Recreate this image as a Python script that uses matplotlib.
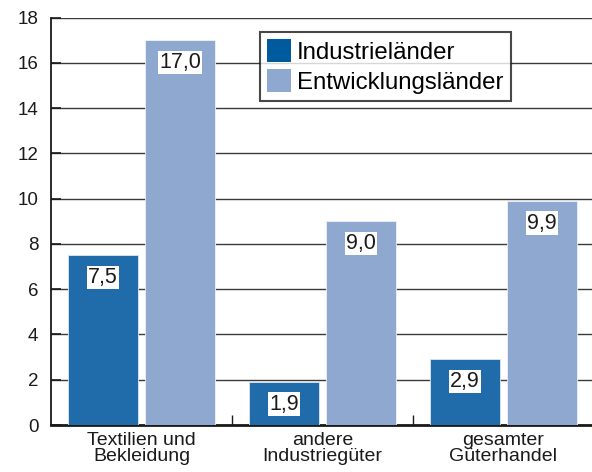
import matplotlib
matplotlib.use("Agg")
import matplotlib.pyplot as plt
import numpy as np
from matplotlib.patches import Patch

categories = ["Textilien und\nBekleidung", "andere\nIndustriegüter", "gesamter\nGüterhandel"]
industrie = [7.5, 1.9, 2.9]
entwicklung = [17.0, 9.0, 9.9]
series_names = ["Industrieländer", "Entwicklungsländer"]
yticks = [0, 2, 4, 6, 8, 10, 12, 14, 16, 18]

plt.rcParams['font.family'] = ['Liberation Sans', 'DejaVu Sans']

dark_bar = "#206baa"
dark_leg = "#005b9e"
light = "#8ea8cf"

fig = plt.figure(figsize=(5.92, 4.72), dpi=100)
ax = fig.add_axes([51/592, 47/472, 541/592, 407.5/472])

x = np.arange(len(categories))
w = 0.387
off = 0.212
b1 = ax.bar(x - off, industrie, w, color=dark_bar, edgecolor="#dfe8f2", linewidth=0.6, zorder=3)
b2 = ax.bar(x + off, entwicklung, w, color=light, edgecolor="#eef2f8", linewidth=0.6, zorder=3)

for bars, vals in ((b1, industrie), (b2, entwicklung)):
    for r, v in zip(bars, vals):
        ax.annotate(f"{v:.1f}".replace(".", ","), (r.get_x() + r.get_width()/2, v),
                    xytext=(0, -16), textcoords="offset points", ha="center", va="center",
                    fontsize=15.5, color="#1a1a1a", zorder=5,
                    bbox=dict(boxstyle="square,pad=0.06", fc="white", ec="none"))

ax.set_ylim(0, 18)
ax.set_xlim(-0.5, 2.49)
ax.set_yticks(yticks)
ax.set_yticklabels([str(t) for t in yticks])
ax.yaxis.grid(True, color="#3a3a3a", linewidth=1.0, zorder=0)
ax.set_axisbelow(True)
ax.tick_params(axis="y", direction="in", length=7.5, width=1.2, pad=9, labelsize=13.5, colors="#1a1a1a")
ax.set_xticks(x)
ax.set_xticklabels(categories, fontsize=14, color="#1a1a1a", linespacing=0.93)
ax.tick_params(axis="x", length=0, pad=5)
ax.set_xticks([0.5, 1.5], minor=True)
ax.tick_params(axis="x", which="minor", direction="in", length=7, width=1.0, color="#1a1a1a")

for s in ("top", "right"):
    ax.spines[s].set_visible(False)
ax.spines["left"].set_linewidth(1.3)
ax.spines["bottom"].set_linewidth(2.0)
ax.spines["left"].set_color("#1a1a1a")
ax.spines["bottom"].set_color("#1a1a1a")

handles = [Patch(facecolor=dark_leg, edgecolor="none"), Patch(facecolor=light, edgecolor="none")]
leg = ax.legend(handles, series_names, loc="upper left", bbox_to_anchor=((260-51)/541, (425-32)/407.5),
                fontsize=17.3, frameon=True, fancybox=False, edgecolor="#1a1a1a",
                handlelength=1.0, handleheight=1.1, handletextpad=0.25, borderpad=0.3,
                labelspacing=0.22, borderaxespad=0)
leg.get_frame().set_linewidth(1.5)
leg.set_zorder(6)

fig.savefig("out.png", dpi=100)
